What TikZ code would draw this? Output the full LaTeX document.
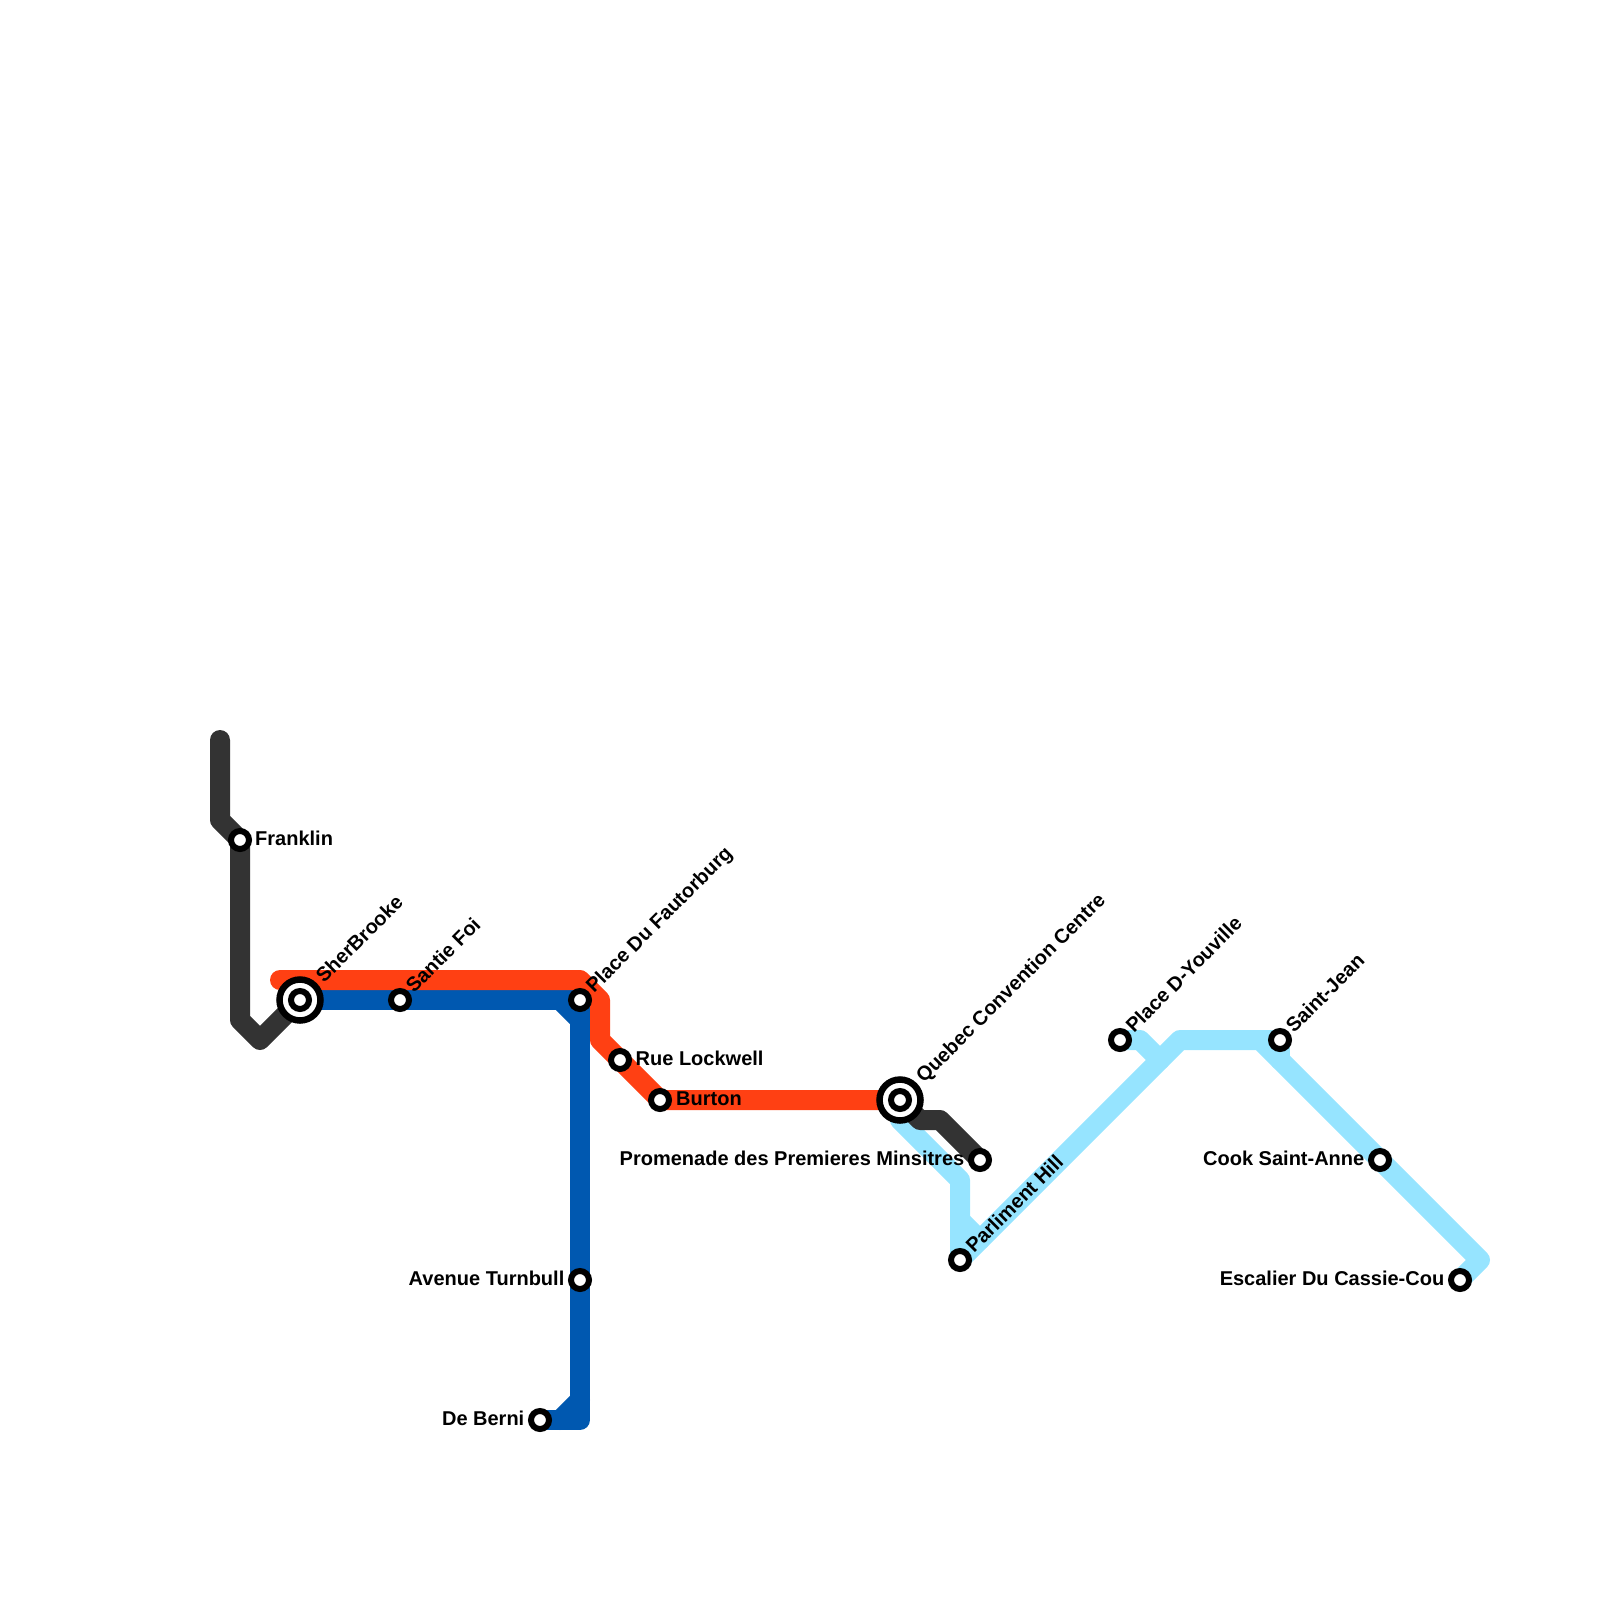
\documentclass[tikz,border=0pt]{standalone}
\usepackage{fontspec}
\setmainfont{Liberation Sans}
\usetikzlibrary{calc, backgrounds}

\definecolor{linedark}{HTML}{333333}
\definecolor{linered}{HTML}{FF4013}
\definecolor{lineblue}{HTML}{0058B0}
\definecolor{linesky}{HTML}{96E4FF}

\begin{document}
\begin{tikzpicture}[
        x=1pt, y=-1pt,
        % styles
        station/.style={
            draw=black, circle, fill=white, line width=6pt,
            minimum size=18pt, inner sep=0pt, outer sep=0pt
        },
        interchange/.style={
            draw=black, circle, fill=white, line width=6.5pt,
            minimum size=41pt, inner sep=0pt, outer sep=0pt
        },
        stationlabel/.style={
            inner sep=0pt, text=black,
            font=\fontsize{20}{20}\selectfont\bfseries
        },
        tolabel/.style={stationlabel, anchor=base west},
        backlabel/.style={stationlabel, anchor=base east},
        uplabel/.style={stationlabel, anchor=base west, rotate=45},
        route/.style={line width=20pt, line join=round, line cap=round}
    ]
    \useasboundingbox (0,0) rectangle (1600,1600);

    % 1. stations
    \node (franklin) [station] at (240,840) {};
    \node (sherbrooke) [interchange] at (300,1000) {};
    \node (sherbrookeinner) [station] at (300,1000) {};
    \node (santiefoi) [station] at (400,1000) {};
    \node (fautorburg) [station] at (580,1000) {};
    \node (lockwell) [station] at (620,1060) {};
    \node (burton) [station] at (660,1100) {};
    \node (turnbull) [station] at (580,1280) {};
    \node (deberni) [station] at (540,1420) {};
    \node (quebec) [interchange] at (900,1100) {};
    \node (quebecinner) [station] at (900,1100) {};
    \node (promenade) [station] at (980,1160) {};
    \node (parliment) [station] at (960,1260) {};
    \node (youville) [station] at (1120,1040) {};
    \node (saintjean) [station] at (1280,1040) {};
    \node (cookanne) [station] at (1380,1160) {};
    \node (escalier) [station] at (1460,1280) {};

    % 2. labels
    \node (franklintext) [tolabel] at ($(franklin)+(15,5)$) {Franklin};
    \node (sherbrooketext) [uplabel] at ($(sherbrooke)+(24,-16)$) {SherBrooke};
    \node (santiefoitext) [uplabel] at ($(santiefoi)+(14,-6)$) {Santie Foi};
    \node (fautorburgtext) [uplabel] at ($(fautorburg)+(14,-6)$) {Place Du Fautorburg};
    \node (lockwelltext) [tolabel] at ($(lockwell)+(15.5,5)$) {Rue Lockwell};
    \node (burtontext) [tolabel] at ($(burton)+(16,5)$) {Burton};
    \node (turnbulltext) [backlabel] at ($(turnbull)+(-15.5,5)$) {Avenue Turnbull};
    \node (debernitext) [backlabel] at ($(deberni)+(-15.5,5)$) {De Berni};
    \node (quebectext) [uplabel] at ($(quebec)+(24,-16)$) {Quebec Convention Centre};
    \node (promenadetext) [backlabel] at ($(promenade)+(-15.5,5)$) {Promenade des Premieres Minsitres};
    \node (parlimenttext) [uplabel] at ($(parliment)+(14,-6)$) {Parliment Hill};
    \node (youvilletext) [uplabel] at ($(youville)+(14,-6)$) {Place D-Youville};
    \node (saintjeantext) [uplabel] at ($(saintjean)+(14,-6)$) {Saint-Jean};
    \node (cookannetext) [backlabel] at ($(cookanne)+(-15.5,5)$) {Cook Saint-Anne};
    \node (escaliertext) [backlabel] at ($(escalier)+(-15.5,5)$) {Escalier Du Cassie-Cou};

    % 3. lines, under the stations
    \begin{pgfonlayer}{background}
        % sky line
        \coordinate (skya) at (900,1120);
        \coordinate (skyb) at (960,1180);
        \coordinate (skyc) at (1180,1040);
        \coordinate (skyd) at (1260,1040);
        \coordinate (skye) at (1480,1260);
        \draw[route, linesky] (quebec.center) -- (skya) -- (skyb) -- (parliment.center) -- (skyc) -- (skyd) -- (skye) -- (escalier.center);
        \coordinate (stuba) at (960,1220);
        \coordinate (stubb) at (980,1240);
        \draw[route, linesky] (stuba) -- (stubb);
        \coordinate (stubc) at (1140,1040);
        \coordinate (stubd) at (1160,1060);
        \draw[route, linesky] (youville.center) -- (stubc) -- (stubd);
        \coordinate (stube) at (1280,1060);
        \draw[route, linesky] (skyd) -- (saintjean.center) -- (stube);

        % dark line
        \coordinate (darka) at (220,740);
        \coordinate (darkb) at (220,820);
        \coordinate (darkc) at (240,1020);
        \coordinate (darkd) at (260,1040);
        \draw[route, linedark] (darka) -- (darkb) -- (franklin.center) -- (darkc) -- (darkd) -- (sherbrooke.center);
        \coordinate (darke) at (920,1120);
        \coordinate (darkf) at (940,1120);
        \draw[route, linedark] (quebec.center) -- (darke) -- (darkf) -- (promenade.center);

        % blue line
        \coordinate (bluea) at (580,1420);
        \draw[route, lineblue] (sherbrooke.center) -- (fautorburg.center) -- (turnbull.center) -- (bluea) -- (deberni.center);
        \coordinate (blueb) at (560,1000);
        \coordinate (bluec) at (580,1020);
        \draw[route, lineblue] (blueb) -- (bluec);
        \coordinate (blued) at (580,1400);
        \coordinate (bluee) at (560,1420);
        \draw[route, lineblue] (blued) -- (bluee);

        % red line
        \coordinate (reda) at (280,980);
        \coordinate (redb) at (580,980);
        \coordinate (redc) at (600,1000);
        \coordinate (redd) at (600,1040);
        \draw[route, linered] (reda) -- (redb) -- (redc) -- (redd) -- (lockwell.center) -- (burton.center) -- (quebec.center);
    \end{pgfonlayer}

\end{tikzpicture}
\end{document}
